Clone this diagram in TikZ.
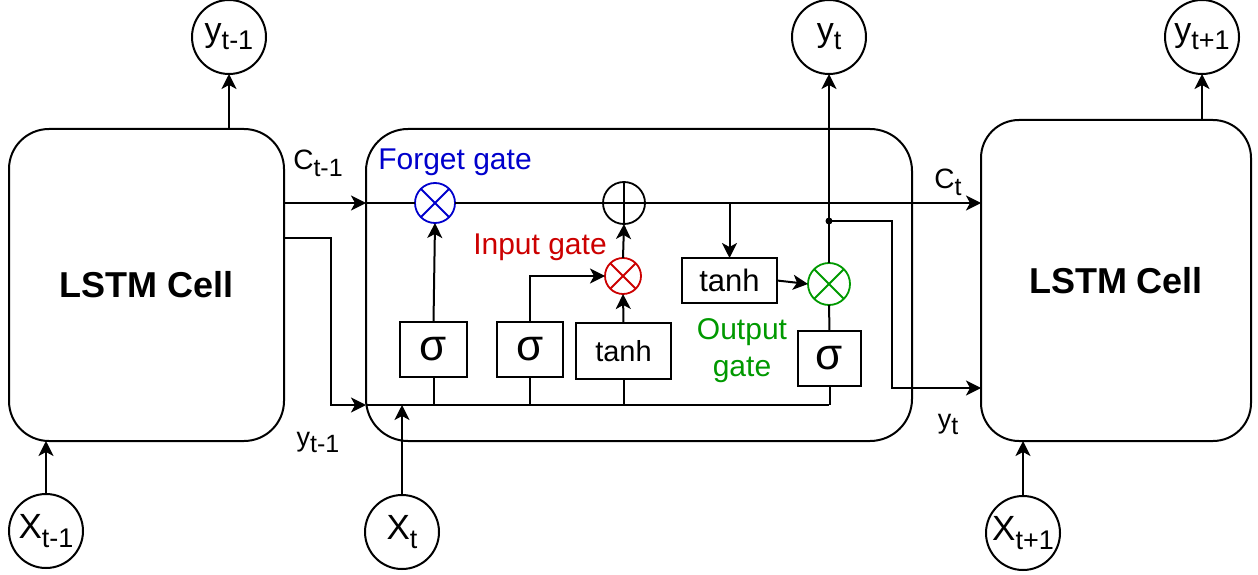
\documentclass[tikz,border=0pt]{standalone}
\usepackage{fontspec}
\setmainfont{Liberation Sans}
\usetikzlibrary{arrows.meta}
\newcommand\fs[2]{{\fontsize{#1}{#1}\selectfont #2}}
\newcommand\subx[3]{\raisebox{-#2}{\fontsize{#1}{#1}\selectfont #3}}
\definecolor{gblue}{RGB}{0,0,204}
\definecolor{gred}{RGB}{204,0,0}
\definecolor{ggreen}{RGB}{0,153,0}
\begin{document}
\begin{tikzpicture}[x=1pt,y=-1pt,line width=2pt,
  every node/.style={inner sep=0pt,outer sep=0pt},
  arr/.style={-{Stealth[length=15pt,width=15pt,inset=4pt]}},
  cellbox/.style={draw,rounded corners=40pt,font=\fontsize{36}{36}\selectfont\bfseries},
  io/.style={draw,circle,minimum size=74pt},
  op/.style={draw,circle,line width=1.8pt},
  gatebox/.style={draw,rectangle,line width=1.8pt},
  sig/.style={gatebox,font=\fontsize{44}{44}\selectfont},
  th/.style={gatebox,font=\fontsize{31}{31}\selectfont},
  gatelbl/.style={font=\fontsize{30}{30}\selectfont},
  dotnode/.style={circle,fill,minimum size=7pt}
]
\useasboundingbox (0,0) rectangle (1258,575);

% LSTM cells
\node[cellbox,minimum width=275pt,minimum height=312pt] (L) at (146.5,285) {LSTM Cell};
\node[draw,rounded corners=42pt,minimum width=546pt,minimum height=312pt] (M) at (639,285) {};
\node[cellbox,rounded corners=38pt,minimum width=270pt,minimum height=321pt] (R) at (1116,280.5) {LSTM Cell};

% inputs / outputs
\node[io] (y0) at (229,37) {\fs{34}{y}\subx{27}{8pt}{t-1}};
\node[io] (yt) at (829,37) {\fs{34}{y}\subx{27}{8pt}{t}};
\node[io] (y2) at (1202,37) {\fs{34}{y}\subx{27}{8pt}{t+1}};
\node[io] (X0) at (46,531) {\fs{35}{X}\subx{27}{9pt}{t-1}};
\node[io] (Xt) at (402,532) {\fs{35}{X}\subx{27}{9pt}{t}};
\node[io] (X2) at (1023,533) {\fs{35}{X}\subx{27}{9pt}{t+1}};

% operators
\node[op,gblue,minimum size=40pt] (fg) at (435,203) {};
\node[op,minimum size=42pt] (plus) at (624,203) {};
\node[op,gred,minimum size=36pt] (ig) at (623,276) {};
\node[op,ggreen,minimum size=42pt] (og) at (829,284) {};
\draw[gblue,line width=1.8pt] (fg.45) -- (fg.225) (fg.135) -- (fg.315);
\draw[line width=1.8pt] (plus.north) -- (plus.south) (plus.west) -- (plus.east);
\draw[gred,line width=1.8pt] (ig.45) -- (ig.225) (ig.135) -- (ig.315);
\draw[ggreen,line width=1.8pt] (og.45) -- (og.225) (og.135) -- (og.315);

% gate boxes
\node[sig,minimum width=67pt,minimum height=55pt] (sigF) at (433.5,349.5) {σ};
\node[sig,minimum width=66pt,minimum height=55pt] (sigI) at (530,349.5) {σ};
\node[th,font=\fontsize{29}{29}\selectfont,minimum width=95pt,minimum height=56pt] (tanhI) at (623.5,351) {tanh};
\node[th,minimum width=95pt,minimum height=45pt] (tanhO) at (729.5,280.5) {tanh};
\node[sig,minimum width=63pt,minimum height=55pt] (sigO) at (829.5,358.5) {σ};

% labels
\node[gatelbl,text=gblue] (lf) at (455,162) {Forget gate};
\node[gatelbl,text=gred] (li) at (540,247) {Input gate};
\node[gatelbl,text=ggreen,align=center] (lo) at (742,351) {Output\\[7pt]gate};
\node (lc0) at (318,163) {\fs{28}{C}\subx{25}{7pt}{t-1}};
\node (ly0) at (318,442) {\fs{27}{y}\subx{25}{6pt}{t-1}};
\node (lct) at (948,182) {\fs{28}{C}\subx{25}{7pt}{t}};
\node (lyt) at (948,424) {\fs{27}{y}\subx{25}{6pt}{t}};

% coordinates
\coordinate (cin) at (366,203);
\coordinate (h1) at (331,238);
\coordinate (busL) at (331,405);
\coordinate (busR) at (829,405);
\coordinate (br) at (tanhO.north |- plus);
\node[dotnode] (jd) at (829,221) {};
\coordinate (yr1) at (892,221);
\coordinate (yr2) at (892,388);

% cell state
\draw[arr] (L.east |- cin) -- (cin);
\draw (cin) -- (fg.west);
\draw (fg.east) -- (plus.west);
\draw[arr] (plus.east) -- (R.west |- plus);
\draw[arr] (br) -- (tanhO.north);

% hidden state in
\draw[arr] (L.east |- h1) -- (h1) -- (busL) -- (M.west |- busL);
\draw (M.west |- busL) -- (busR);
\draw[arr] (Xt) -- (Xt |- busL);

% gates
\draw (sigF.south) -- (sigF.south |- busL);
\draw (sigI.south) -- (sigI.south |- busL);
\draw (tanhI.south) -- (tanhI.south |- busL);
\draw (sigO.south) -- (sigO.south |- busR);
\draw[arr] (sigF.north) -- (fg.south);
\draw[arr] (sigI.north) |- (ig.west);
\draw[arr] (tanhI.north) -- (ig.south);
\draw[arr] (ig.north) -- (plus.south);
\draw[arr] (tanhO.east) -- (og.west);
\draw (sigO.north) -- (og.south);

% output
\draw[arr] (og.north) -- (yt.south);
\draw[arr] (jd.center) -- (yr1) -- (yr2) -- (R.west |- yr2);

% outer connections
\draw[arr] (X0) -- (X0 |- L.south);
\draw[arr] (X2) -- (X2 |- R.south);
\draw[arr] (L.north -| y0) -- (y0);
\draw[arr] (R.north -| y2) -- (y2);
\end{tikzpicture}
\end{document}
